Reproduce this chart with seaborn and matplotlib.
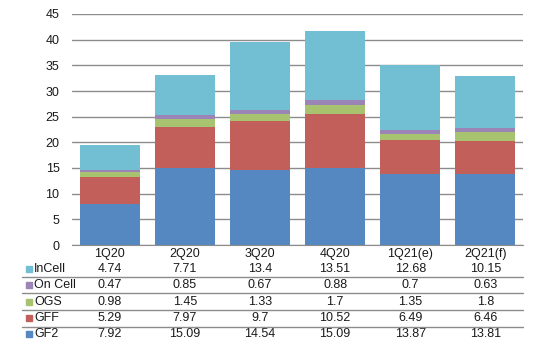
import numpy as np
import pandas as pd
import seaborn as sns
import matplotlib.pyplot as plt
from matplotlib import transforms
from matplotlib.patches import Rectangle
from matplotlib.lines import Line2D

# Datos
quarters = ["1Q20", "2Q20", "3Q20", "4Q20", "1Q21(e)", "2Q21(f)"]
gf2 = [7.92, 15.09, 14.54, 15.09, 13.87, 13.81]
gff = [5.29, 7.97, 9.7, 10.52, 6.49, 6.46]
ogs = [0.98, 1.45, 1.33, 1.7, 1.35, 1.8]
on_cell = [0.47, 0.85, 0.67, 0.88, 0.7, 0.63]
incell = [4.74, 7.71, 13.4, 13.51, 12.68, 10.15]

series_names = ["GF2", "GFF", "OGS", "On Cell", "InCell"]
series_values = [gf2, gff, ogs, on_cell, incell]
series_labels = [["7.92", "15.09", "14.54", "15.09", "13.87", "13.81"],
                 ["5.29", "7.97", "9.7", "10.52", "6.49", "6.46"],
                 ["0.98", "1.45", "1.33", "1.7", "1.35", "1.8"],
                 ["0.47", "0.85", "0.67", "0.88", "0.7", "0.63"],
                 ["4.74", "7.71", "13.4", "13.51", "12.68", "10.15"]]
colors = ["#5587C1", "#C35F5B", "#A7C36F", "#9B84B6", "#72BED2"]

sns.set_style("white")
plt.rcParams["font.family"] = ["Liberation Sans", "DejaVu Sans"]

W, H = 539, 350
fs = 9
txt_col = "#1a1a1a"
fig = plt.figure(figsize=(W / 100, H / 100), dpi=100)
ax = fig.add_axes([72 / W, 1 - 245 / H, (523 - 72) / W, (245 - 14) / H])

# Barras apiladas
bottom = np.zeros(len(quarters))
for name, vals, col in zip(series_names, series_values, colors):
    df = pd.DataFrame({"q": quarters, "v": vals})
    sns.barplot(data=df, x="q", y="v", color=col, bottom=bottom, width=0.8,
                saturation=1, ax=ax, linewidth=0, label=name)
    bottom = bottom + np.array(vals)

ax.set_ylim(0, 45)
ax.set_yticks(range(0, 46, 5))
ax.set_xlim(-0.5, len(quarters) - 0.5)
ax.yaxis.grid(True, color="#8c8c8c", lw=1)
ax.set_axisbelow(True)
for s in ["top", "right", "left"]:
    ax.spines[s].set_visible(False)
ax.spines["bottom"].set_color("#8c8c8c")
ax.tick_params(axis="y", length=0, pad=9, labelsize=fs, colors=txt_col)
ax.tick_params(axis="x", length=0, pad=2, labelsize=fs, colors=txt_col)
ax.set_xlabel("")
ax.set_ylabel("")
if ax.get_legend():
    ax.get_legend().remove()

# Tabla de datos
tr = transforms.blended_transform_factory(ax.transData, fig.transFigure)
row_y = [269, 285, 302, 318, 334]
rows = list(zip(series_names, series_labels, colors))[::-1]
for yp, (name, labels, col) in zip(row_y, rows):
    yf = 1 - yp / H
    for i, lab in enumerate(labels):
        ax.text(i, yf, lab, transform=tr, ha="center", va="center",
                fontsize=fs, color=txt_col, clip_on=False)
    fig.patches.append(Rectangle((26 / W, yf - 2.5 / H), 5.5 / W, 5.5 / H,
                                 transform=fig.transFigure, color=col))
    fig.text(34 / W, yf, name, ha="left", va="center", fontsize=fs, color=txt_col)

for yp in [277, 293, 310, 326.5]:
    fig.lines.append(Line2D([22 / W, 523 / W], [1 - yp / H, 1 - yp / H],
                            transform=fig.transFigure, color="#8c8c8c", lw=1))

fig.savefig("out.png", dpi=100, facecolor="white")
